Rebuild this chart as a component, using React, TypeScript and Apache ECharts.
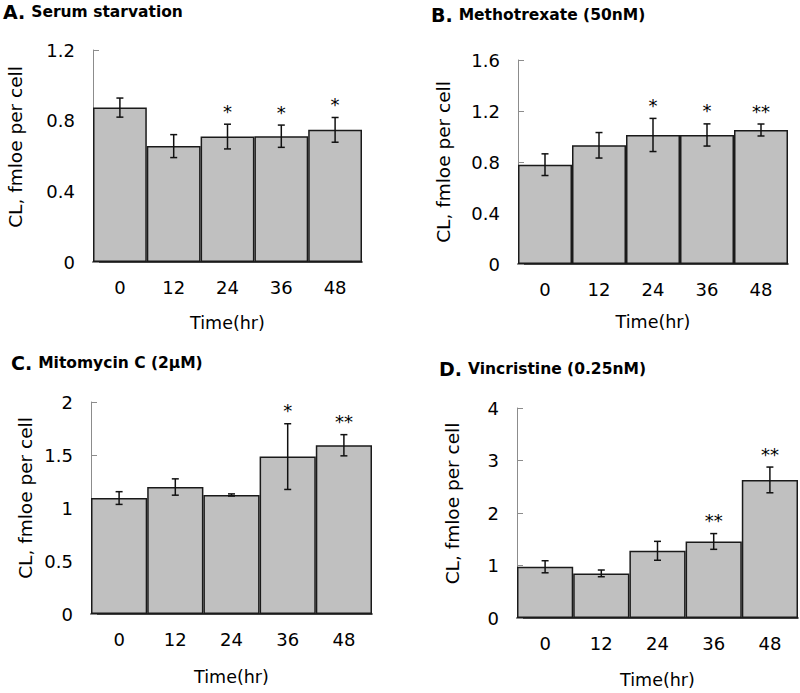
import React, { useEffect, useRef } from "react";
import * as echarts from "echarts";

const categories = ["0", "12", "24", "36", "48"];

const serumMean = [0.874, 0.656, 0.71, 0.712, 0.748];
const serumErr = [0.054, 0.065, 0.07, 0.063, 0.07];
const serumSig = ["", "", "*", "*", "*"];

const mtxMean = [0.779, 0.931, 1.012, 1.012, 1.051];
const mtxErr = [0.085, 0.1, 0.13, 0.087, 0.047];
const mtxSig = ["", "", "*", "*", "**"];

const mmcMean = [1.094, 1.198, 1.123, 1.485, 1.592];
const mmcErr = [0.06, 0.077, 0.01, 0.31, 0.1];
const mmcSig = ["", "", "", "*", "**"];

const vcrMean = [0.976, 0.85, 1.28, 1.458, 2.63];
const vcrErr = [0.115, 0.064, 0.18, 0.15, 0.245];
const vcrSig = ["", "", "", "**", "**"];

const panelLetters = ["A.", "B.", "C.", "D."];
const panelTitles = ["Serum starvation", "Methotrexate (50nM)", "Mitomycin C (2μM)", "Vincristine (0.25nM)"];
const yMax = [1.2, 1.6, 2, 4];
const yInterval = [0.4, 0.4, 0.5, 1];
const yName = "CL, fmloe per cell";
const xName = "Time(hr)";

const FONT = "'DejaVu Sans', Arial, sans-serif";

export default function App() {
  const ref = useRef<HTMLDivElement>(null);
  useEffect(() => {
    document.body.style.margin = "0";
    const chart = echarts.init(ref.current!, null, { renderer: "svg" });
    const means = [serumMean, mtxMean, mmcMean, vcrMean];
    const errs = [serumErr, mtxErr, mmcErr, vcrErr];
    const sigs = [serumSig, mtxSig, mmcSig, vcrSig];

    const grids = [
      { left: 93, top: 50, width: 269, height: 212 },
      { left: 518, top: 60, width: 270, height: 204 },
      { left: 91, top: 402, width: 281, height: 212 },
      { left: 517, top: 408, width: 281, height: 210 },
    ];
    const yNamePos = [
      [15, 147],
      [443, 162],
      [25, 498],
      [452, 503.5],
    ];
    const xNameGap = [52, 49, 54, 53];
    const titlePos = [
      { left: 3, top: 2 },
      { left: 431, top: 5 },
      { left: 11, top: 353 },
      { left: 439, top: 359 },
    ];

    const xAxis: any[] = [];
    const yAxis: any[] = [];
    const series: any[] = [];
    const title: any[] = [];
    const graphic: any[] = [];

    for (let p = 0; p < 4; p++) {
      title.push({
        text: `{a|${panelLetters[p]}}{b|${panelTitles[p]}}`,
        left: titlePos[p].left,
        top: titlePos[p].top,
        padding: 0,
        textStyle: {
          rich: {
            a: { fontFamily: FONT, fontWeight: "bold", fontSize: 19, color: "#000", padding: [0, 6, 0, 0] },
            b: { fontFamily: FONT, fontWeight: "bold", fontSize: 15.5, color: "#000" },
          },
        },
      });
      graphic.push({
        type: "text",
        x: yNamePos[p][0],
        y: yNamePos[p][1],
        rotation: Math.PI / 2,
        style: {
          text: yName,
          fontFamily: FONT,
          fontSize: 18.5,
          fill: "#000",
          align: "center",
          verticalAlign: "middle",
        },
      });
      xAxis.push({
        type: "category",
        gridIndex: p,
        data: categories,
        name: xName,
        nameLocation: "middle",
        nameGap: xNameGap[p],
        nameTextStyle: { fontFamily: FONT, fontSize: 17.5, color: "#000" },
        axisLine: { lineStyle: { color: "#000", width: 1.5 } },
        axisTick: { show: false },
        axisLabel: { fontFamily: FONT, fontSize: 18, color: "#000", margin: 16 },
        splitLine: { show: false },
      });
      yAxis.push({
        type: "value",
        gridIndex: p,
        min: 0,
        max: yMax[p],
        interval: yInterval[p],
        axisLine: { show: true, lineStyle: { color: "#8c8c8c", width: 1 } },
        axisTick: { show: true, inside: true, length: 6, lineStyle: { color: "#8c8c8c" } },
        axisLabel: { fontFamily: FONT, fontSize: 18, color: "#000", margin: 18 },
        splitLine: { show: false },
      });
      series.push({
        type: "bar",
        xAxisIndex: p,
        yAxisIndex: p,
        data: means[p],
        barCategoryGap: "0%",
        itemStyle: { color: "#c0c0c0", borderColor: "#1a1a1a", borderWidth: 1.5 },
        z: 2,
      });
      const errData = means[p].map((m, i) => [i, m, errs[p][i]]);
      series.push({
        type: "custom",
        xAxisIndex: p,
        yAxisIndex: p,
        data: errData,
        z: 5,
        renderItem: (params: any, api: any) => {
          const i = api.value(0);
          const m = api.value(1);
          const e = api.value(2);
          const top = api.coord([i, m + e]);
          const bot = api.coord([i, m - e]);
          const w = 3.5;
          const st = { stroke: "#111", lineWidth: 1.5 };
          return {
            type: "group",
            children: [
              { type: "line", shape: { x1: top[0], y1: top[1], x2: bot[0], y2: bot[1] }, style: st },
              { type: "line", shape: { x1: top[0] - w, y1: top[1], x2: top[0] + w, y2: top[1] }, style: st },
              { type: "line", shape: { x1: bot[0] - w, y1: bot[1], x2: bot[0] + w, y2: bot[1] }, style: st },
            ],
          };
        },
      });
      const starData = means[p].map((m, i) => [i, m + errs[p][i], sigs[p][i]]);
      series.push({
        type: "custom",
        xAxisIndex: p,
        yAxisIndex: p,
        data: starData,
        z: 6,
        renderItem: (params: any, api: any) => {
          const i = api.value(0);
          const top = api.value(1);
          const s = sigs[p][i];
          if (!s) return null;
          const c = api.coord([i, top]);
          return {
            type: "text",
            x: c[0],
            y: c[1] - 4,
            style: {
              text: s,
              fontFamily: FONT,
              fontSize: 18,
              fill: "#000",
              align: "center",
              verticalAlign: "bottom",
            },
          };
        },
      });
    }

    chart.setOption({
      animation: false,
      backgroundColor: "#fff",
      title,
      grid: grids,
      xAxis,
      yAxis,
      series,
      graphic,
    });
    return () => chart.dispose();
  }, []);
  return <div ref={ref} style={{ width: 800, height: 693 }} />;
}
